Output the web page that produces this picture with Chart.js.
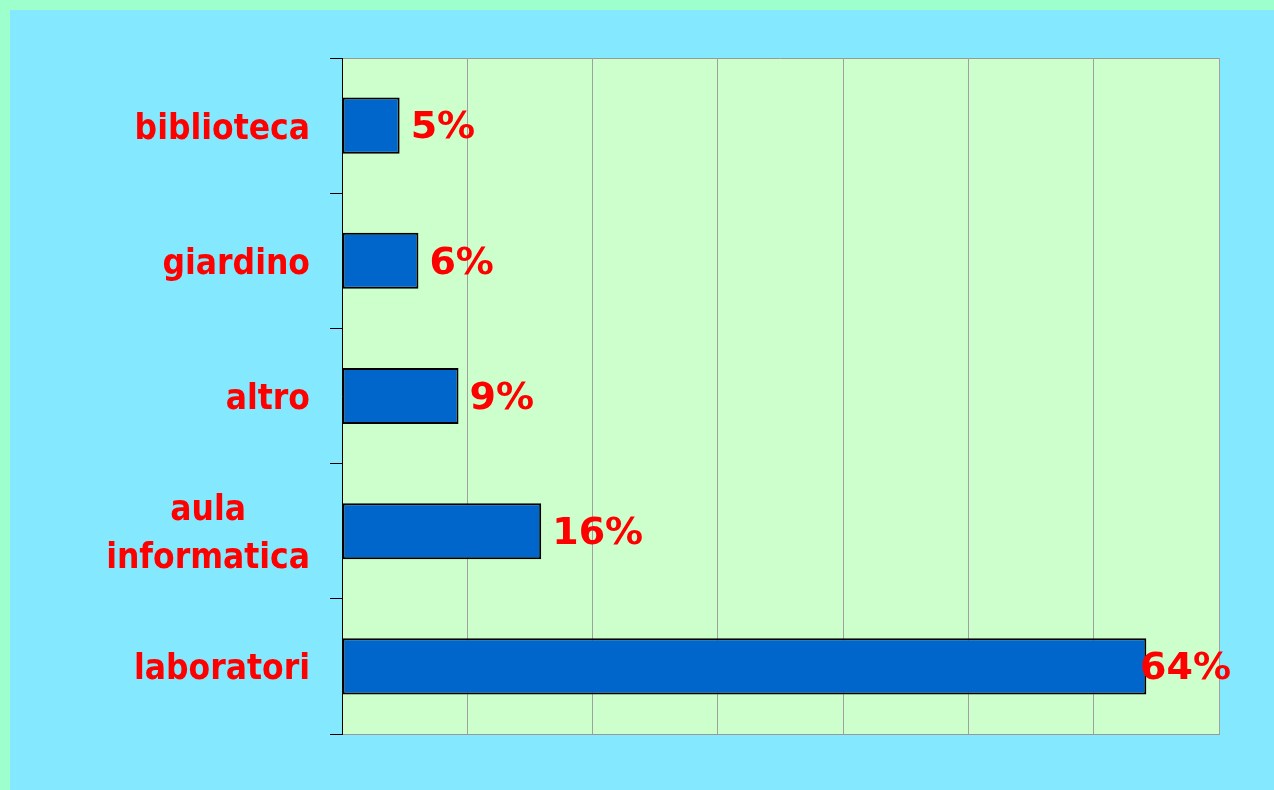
<!DOCTYPE html>
<html>
<head>
<meta charset="utf-8">
<script src="https://cdn.jsdelivr.net/npm/chart.js@4.4.0/dist/chart.umd.min.js"></script>
<style>
  html, body { margin: 0; padding: 0; background: #9cffcc; }
  #frame { position: absolute; left: 10px; top: 10px; width: 1264px; height: 780px; background: #84e8ff; }
</style>
</head>
<body>
<div id="frame"><canvas id="luoghiChart"></canvas></div>
<script>
// Dati
const categories = ['biblioteca', 'giardino', 'altro', ['aula', 'informatica'], 'laboratori'];
const percentages = [4.6, 6.1, 9.3, 15.9, 64.2];
const xTicks = [0, 10, 20, 30, 40, 50, 60, 70];

const catFont = 'bold 35px "DejaVu Sans Condensed", "Liberation Sans", sans-serif';
const valFont = 'bold 38px "DejaVu Sans", sans-serif';

// sfondo verde dell'area del grafico + bordo
const plotBackground = {
  id: 'plotBackground',
  beforeDraw(chart) {
    const { ctx, chartArea: a } = chart;
    ctx.save();
    ctx.fillStyle = '#ccffcc';
    ctx.fillRect(a.left, a.top, a.right - a.left, a.bottom - a.top);
    ctx.strokeStyle = '#999999';
    ctx.lineWidth = 1;
    ctx.beginPath();
    ctx.moveTo(a.left, a.top + 0.5);
    ctx.lineTo(a.right, a.top + 0.5);
    ctx.stroke();
    ctx.restore();
  }
};

// etichette delle categorie (righe centrate fra loro, blocco allineato a destra)
const categoryLabels = {
  id: 'categoryLabels',
  afterDraw(chart) {
    const { ctx } = chart;
    const yScale = chart.scales.y;
    const rightX = yScale.right - 32;
    const lineH = 48;
    ctx.save();
    ctx.font = catFont;
    ctx.fillStyle = '#ff0000';
    ctx.textAlign = 'center';
    ctx.textBaseline = 'alphabetic';
    chart.data.labels.forEach((lab, i) => {
      const lines = Array.isArray(lab) ? lab : [lab];
      const widest = Math.max(...lines.map(l => ctx.measureText(l).width));
      const cy = yScale.getPixelForValue(i);
      const firstBase = cy + 13 - (lines.length - 1) * lineH / 2;
      lines.forEach((l, j) => {
        ctx.fillText(l, rightX - widest / 2, firstBase + j * lineH);
      });
    });
    ctx.restore();
  }
};

// valori percentuali a fine barra
const valueLabels = {
  id: 'valueLabels',
  afterDatasetsDraw(chart) {
    const { ctx, chartArea: a } = chart;
    const meta = chart.getDatasetMeta(0);
    ctx.save();
    ctx.font = valFont;
    ctx.fillStyle = '#ff0000';
    ctx.textAlign = 'left';
    ctx.textBaseline = 'middle';
    meta.data.forEach((bar, i) => {
      const txt = Math.round(percentages[i]) + '%';
      const w = ctx.measureText(txt).width;
      const x = Math.min(bar.x + 11, a.right + 12 - w);
      ctx.fillText(txt, x, bar.y + 3);
    });
    ctx.restore();
  }
};

const ctx = document.getElementById('luoghiChart').getContext('2d');
new Chart(ctx, {
  type: 'bar',
  data: {
    labels: categories,
    datasets: [{
      data: percentages,
      backgroundColor: '#0066cc',
      borderColor: '#000000',
      borderWidth: 2,
      borderSkipped: false,
      barPercentage: 0.415,
      categoryPercentage: 1
    }]
  },
  options: {
    indexAxis: 'y',
    responsive: true,
    maintainAspectRatio: false,
    animation: false,
    layout: { padding: { top: 48, right: 55, bottom: 56, left: 0 } },
    plugins: {
      legend: { display: false },
      tooltip: { enabled: false }
    },
    scales: {
      x: {
        min: 0,
        max: 70,
        afterBuildTicks: (scale) => { scale.ticks = xTicks.map(v => ({ value: v })); },
        ticks: { display: false },
        grid: { color: '#a0a0a0', lineWidth: 1, drawTicks: false },
        border: { color: '#999999', width: 1 }
      },
      y: {
        afterFit: (scale) => { scale.width = 332; },
        ticks: { display: false },
        grid: { drawOnChartArea: false, drawTicks: true, tickLength: 12, color: '#000000', lineWidth: 1 },
        border: { color: '#000000', width: 1 }
      }
    }
  },
  plugins: [plotBackground, categoryLabels, valueLabels]
});
</script>
</body>
</html>
